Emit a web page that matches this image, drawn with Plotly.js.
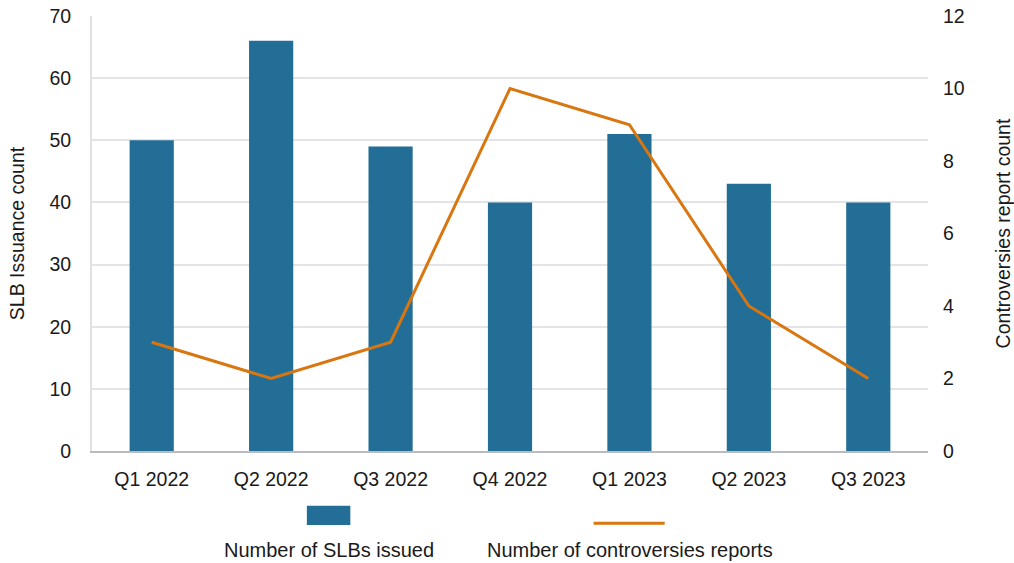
<!DOCTYPE html>
<html>
<head>
<meta charset="utf-8">
<script src="https://cdn.plot.ly/plotly-3.0.1.min.js"></script>
<style>html,body{margin:0;padding:0;background:#fff;}#chart{width:1014px;height:563px;}</style>
</head>
<body>
<div id="chart"></div>
<script>
const quarters = ["Q1 2022","Q2 2022","Q3 2022","Q4 2022","Q1 2023","Q2 2023","Q3 2023"];
const slbIssued = [50, 66, 49, 40, 51, 43, 40];
const controversies = [3, 2, 3, 10, 9, 4, 2];
const seriesNames = ["Number of SLBs issued", "Number of controversies reports"];
const leftTitle = "SLB Issuance count";
const rightTitle = "Controversies report count";

const barColor = "#236e96";
const lineColor = "#d9760f";
const font = "Liberation Sans, Arial, Helvetica, sans-serif";

const traces = [
  {type:"bar", x:quarters, y:slbIssued, name:seriesNames[0], marker:{color:barColor}, width:0.37, yaxis:"y", hoverinfo:"none"},
  {type:"scatter", mode:"lines", x:quarters, y:controversies, name:seriesNames[1], line:{color:lineColor, width:3}, yaxis:"y2", hoverinfo:"none"}
];

const layout = {
  width:1014, height:563,
  margin:{l:92, r:86, t:16, b:112},
  paper_bgcolor:"#fff", plot_bgcolor:"#fff",
  showlegend:false,
  font:{family:font, size:19.5, color:"#1a1a1a"},
  xaxis:{type:"category", range:[-0.5,6.5], showgrid:false, showline:true, linecolor:"#b8bcc0", linewidth:2,
         ticks:"outside", ticklen:0, ticklabelstandoff:10, tickfont:{size:19.5}, zeroline:false, fixedrange:true},
  yaxis:{range:[0,70], dtick:10, showgrid:true, gridcolor:"#e2e4e7", gridwidth:2, showline:true, linecolor:"#dfe1e4", linewidth:2,
         zeroline:false, ticks:"outside", ticklen:0, ticklabelstandoff:15, tickfont:{size:19.5},
         title:{text:leftTitle, font:{size:19.5}, standoff:20}},
  yaxis2:{range:[0,12], dtick:2, overlaying:"y", side:"right", showgrid:false, showline:false, zeroline:false,
          ticks:"outside", ticklen:0, ticklabelstandoff:10, tickfont:{size:19.5},
          title:{text:rightTitle, font:{size:19.5}, standoff:33}},
  shapes:[
    {type:"rect", xref:"paper", yref:"paper", x0:0.257, x1:0.309, y0:-0.170, y1:-0.126, fillcolor:barColor, line:{width:0}},
    {type:"line", xref:"paper", yref:"paper", x0:0.600, x1:0.685, y0:-0.166, y1:-0.166, line:{color:lineColor, width:3}}
  ],
  annotations:[
    {xref:"paper", yref:"paper", x:0.283, y:-0.228, text:seriesNames[0], showarrow:false, xanchor:"center", yanchor:"middle", font:{size:20}},
    {xref:"paper", yref:"paper", x:0.644, y:-0.228, text:seriesNames[1], showarrow:false, xanchor:"center", yanchor:"middle", font:{size:20}}
  ]
};

Plotly.newPlot("chart", traces, layout, {displayModeBar:false, staticPlot:true});
</script>
</body>
</html>
